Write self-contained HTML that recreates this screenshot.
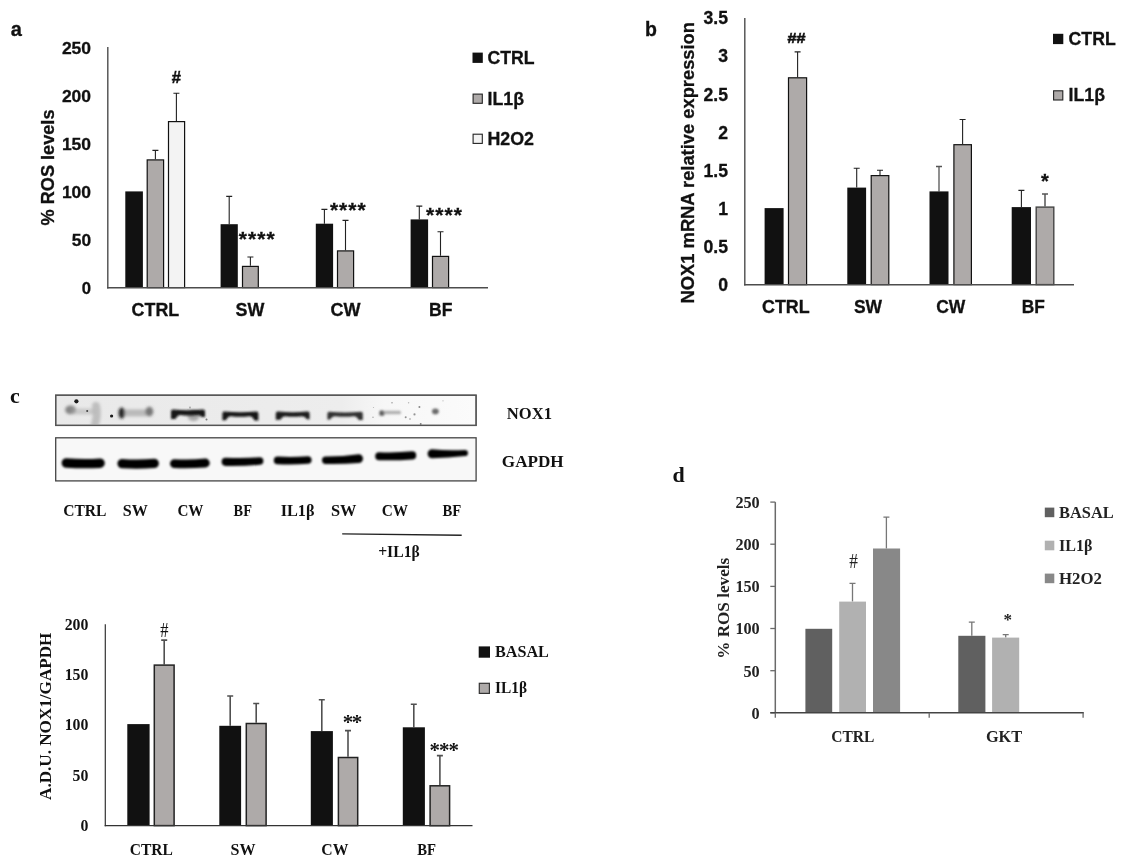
<!DOCTYPE html>
<html lang="en"><head><meta charset="utf-8"><title>Figure</title>
<style>
html,body{margin:0;padding:0;background:#fff}
body{width:1125px;height:866px;overflow:hidden;font-family:"Liberation Sans",sans-serif}
svg{display:block}
</style></head><body>
<svg width="1125" height="866" viewBox="0 0 1125 866">
<defs>
<filter id="b1" filterUnits="userSpaceOnUse" x="40" y="430" width="460" height="60"><feGaussianBlur stdDeviation="1.1"/></filter>
<filter id="b2" filterUnits="userSpaceOnUse" x="40" y="388" width="460" height="46"><feGaussianBlur stdDeviation="1.05"/></filter>
<clipPath id="nc"><rect x="56.3" y="395.8" width="419.2" height="29"/></clipPath>
<filter id="b4" filterUnits="userSpaceOnUse" x="40" y="388" width="460" height="46"><feGaussianBlur stdDeviation="1.8"/></filter>
<filter id="b3" filterUnits="userSpaceOnUse" x="40" y="388" width="460" height="46"><feGaussianBlur stdDeviation="0.5"/></filter>
<linearGradient id="ng" x1="0" x2="1" y1="0" y2="0"><stop offset="0" stop-color="#e9e9e9"/><stop offset=".68" stop-color="#ededed"/><stop offset=".78" stop-color="#f7f7f7"/><stop offset="1" stop-color="#fbfbfb"/></linearGradient>
</defs>
<rect width="1125" height="866" fill="#ffffff"/>
<text x="10.8" y="36.2" font-size="20" font-family="Liberation Sans, Arial, sans-serif" font-weight="bold" text-anchor="start" fill="#111"  stroke="#111" stroke-width=".3">a</text>
<text x="61.9" y="54.2" font-size="17.4" font-family="Liberation Sans, Arial, sans-serif" font-weight="bold" text-anchor="start" fill="#111" textLength="29.2" lengthAdjust="spacingAndGlyphs"  stroke="#111" stroke-width=".3">250</text>
<text x="61.9" y="102.1" font-size="17.4" font-family="Liberation Sans, Arial, sans-serif" font-weight="bold" text-anchor="start" fill="#111" textLength="29.2" lengthAdjust="spacingAndGlyphs"  stroke="#111" stroke-width=".3">200</text>
<text x="61.9" y="150.0" font-size="17.4" font-family="Liberation Sans, Arial, sans-serif" font-weight="bold" text-anchor="start" fill="#111" textLength="29.2" lengthAdjust="spacingAndGlyphs"  stroke="#111" stroke-width=".3">150</text>
<text x="61.9" y="198.0" font-size="17.4" font-family="Liberation Sans, Arial, sans-serif" font-weight="bold" text-anchor="start" fill="#111" textLength="29.2" lengthAdjust="spacingAndGlyphs"  stroke="#111" stroke-width=".3">100</text>
<text x="71.8" y="245.9" font-size="17.4" font-family="Liberation Sans, Arial, sans-serif" font-weight="bold" text-anchor="start" fill="#111" textLength="19.3" lengthAdjust="spacingAndGlyphs"  stroke="#111" stroke-width=".3">50</text>
<text x="81.8" y="293.8" font-size="17.4" font-family="Liberation Sans, Arial, sans-serif" font-weight="bold" text-anchor="start" fill="#111" textLength="9.3" lengthAdjust="spacingAndGlyphs"  stroke="#111" stroke-width=".3">0</text>
<text transform="translate(53.6,167.5) rotate(-90)" font-size="18" font-family="Liberation Sans, Arial, sans-serif" font-weight="bold" text-anchor="middle" fill="#111" textLength="116.0" lengthAdjust="spacingAndGlyphs" stroke="#111" stroke-width=".3">% ROS levels</text>
<rect x="125.3" y="191.4" width="17.6" height="96.2" fill="#111111"/>
<path d="M155.4 159.3V150.4M152.4 150.4H158.4" stroke="#222" stroke-width="1.1" fill="none"/>
<rect x="147.2" y="159.9" width="16.4" height="127.7" fill="#aeaaa9" stroke="#111" stroke-width="1.2"/>
<path d="M176.4 121.0V93.2M173.4 93.2H179.4" stroke="#222" stroke-width="1.1" fill="none"/>
<rect x="168.5" y="121.6" width="16.1" height="166.0" fill="#f3f3f3" stroke="#111" stroke-width="1.2"/>
<text x="176.4" y="82.9" font-size="16.5" font-family="Liberation Sans, Arial, sans-serif" font-weight="bold" text-anchor="middle" fill="#111" stroke="#111" stroke-width=".5">#</text>
<path d="M229.2 224.2V196.4M226.2 196.4H232.2" stroke="#222" stroke-width="1.1" fill="none"/>
<rect x="220.6" y="224.2" width="17.2" height="63.4" fill="#111111"/>
<path d="M250.4 265.8V257.0M247.4 257.0H253.4" stroke="#222" stroke-width="1.1" fill="none"/>
<rect x="242.5" y="266.4" width="15.8" height="21.2" fill="#aeaaa9" stroke="#111" stroke-width="1.2"/>
<text x="238.8" y="245.7" font-size="21" font-family="Liberation Sans, Arial, sans-serif" font-weight="bold" text-anchor="start" fill="#111" letter-spacing="1.05" stroke="#111" stroke-width=".3">****</text>
<path d="M324.4 223.7V209.4M321.4 209.4H327.4" stroke="#222" stroke-width="1.1" fill="none"/>
<rect x="315.8" y="223.7" width="17.3" height="63.9" fill="#111111"/>
<path d="M345.5 250.3V220.4M342.5 220.4H348.5" stroke="#222" stroke-width="1.1" fill="none"/>
<rect x="337.5" y="250.9" width="16.1" height="36.7" fill="#aeaaa9" stroke="#111" stroke-width="1.2"/>
<text x="329.9" y="217.1" font-size="21" font-family="Liberation Sans, Arial, sans-serif" font-weight="bold" text-anchor="start" fill="#111" letter-spacing="1.05" stroke="#111" stroke-width=".3">****</text>
<path d="M419.3 219.4V206.1M416.3 206.1H422.3" stroke="#222" stroke-width="1.1" fill="none"/>
<rect x="410.6" y="219.4" width="17.5" height="68.2" fill="#111111"/>
<path d="M440.5 255.8V231.7M437.5 231.7H443.5" stroke="#222" stroke-width="1.1" fill="none"/>
<rect x="432.5" y="256.4" width="16.1" height="31.2" fill="#aeaaa9" stroke="#111" stroke-width="1.2"/>
<text x="426.1" y="222.1" font-size="21" font-family="Liberation Sans, Arial, sans-serif" font-weight="bold" text-anchor="start" fill="#111" letter-spacing="1.05" stroke="#111" stroke-width=".3">****</text>
<line x1="107.8" y1="47.0" x2="107.8" y2="288.5" stroke="#4d4d4d" stroke-width="1.4"/>
<line x1="107.1" y1="287.8" x2="488.0" y2="287.8" stroke="#4d4d4d" stroke-width="1.4"/>
<text x="131.6" y="316.0" font-size="17.6" font-family="Liberation Sans, Arial, sans-serif" font-weight="bold" text-anchor="start" fill="#111" textLength="47.6" lengthAdjust="spacingAndGlyphs"  stroke="#111" stroke-width=".3">CTRL</text>
<text x="235.6" y="316.0" font-size="17.6" font-family="Liberation Sans, Arial, sans-serif" font-weight="bold" text-anchor="start" fill="#111" textLength="28.8" lengthAdjust="spacingAndGlyphs"  stroke="#111" stroke-width=".3">SW</text>
<text x="330.4" y="316.0" font-size="17.6" font-family="Liberation Sans, Arial, sans-serif" font-weight="bold" text-anchor="start" fill="#111" textLength="30.0" lengthAdjust="spacingAndGlyphs"  stroke="#111" stroke-width=".3">CW</text>
<text x="429.1" y="316.0" font-size="17.6" font-family="Liberation Sans, Arial, sans-serif" font-weight="bold" text-anchor="start" fill="#111" textLength="23.4" lengthAdjust="spacingAndGlyphs"  stroke="#111" stroke-width=".3">BF</text>
<rect x="472.5" y="52.6" width="10.3" height="10.3" fill="#111111"/>
<text x="487.5" y="63.8" font-size="17.6" font-family="Liberation Sans, Arial, sans-serif" font-weight="bold" text-anchor="start" fill="#111" textLength="47.1" lengthAdjust="spacingAndGlyphs"  stroke="#111" stroke-width=".3">CTRL</text>
<rect x="473.1" y="94.1" width="9.2" height="9.2" fill="#aeaaa9" stroke="#222" stroke-width="1.1"/>
<text x="487.5" y="104.7" font-size="17.6" font-family="Liberation Sans, Arial, sans-serif" font-weight="bold" text-anchor="start" fill="#111" textLength="36.5" lengthAdjust="spacingAndGlyphs"  stroke="#111" stroke-width=".3">IL1β</text>
<rect x="473.1" y="134.2" width="9.2" height="9.2" fill="#f3f3f3" stroke="#222" stroke-width="1.1"/>
<text x="487.5" y="144.8" font-size="17.6" font-family="Liberation Sans, Arial, sans-serif" font-weight="bold" text-anchor="start" fill="#111" textLength="46.5" lengthAdjust="spacingAndGlyphs"  stroke="#111" stroke-width=".3">H2O2</text>
<text x="645.0" y="35.8" font-size="19.5" font-family="Liberation Sans, Arial, sans-serif" font-weight="bold" text-anchor="start" fill="#111"  stroke="#111" stroke-width=".3">b</text>
<text x="728.0" y="24.3" font-size="17.6" font-family="Liberation Sans, Arial, sans-serif" font-weight="bold" text-anchor="end" fill="#111"  stroke="#111" stroke-width=".3">3.5</text>
<text x="728.0" y="62.4" font-size="17.6" font-family="Liberation Sans, Arial, sans-serif" font-weight="bold" text-anchor="end" fill="#111"  stroke="#111" stroke-width=".3">3</text>
<text x="728.0" y="100.5" font-size="17.6" font-family="Liberation Sans, Arial, sans-serif" font-weight="bold" text-anchor="end" fill="#111"  stroke="#111" stroke-width=".3">2.5</text>
<text x="728.0" y="138.6" font-size="17.6" font-family="Liberation Sans, Arial, sans-serif" font-weight="bold" text-anchor="end" fill="#111"  stroke="#111" stroke-width=".3">2</text>
<text x="728.0" y="176.7" font-size="17.6" font-family="Liberation Sans, Arial, sans-serif" font-weight="bold" text-anchor="end" fill="#111"  stroke="#111" stroke-width=".3">1.5</text>
<text x="728.0" y="214.7" font-size="17.6" font-family="Liberation Sans, Arial, sans-serif" font-weight="bold" text-anchor="end" fill="#111"  stroke="#111" stroke-width=".3">1</text>
<text x="728.0" y="252.8" font-size="17.6" font-family="Liberation Sans, Arial, sans-serif" font-weight="bold" text-anchor="end" fill="#111"  stroke="#111" stroke-width=".3">0.5</text>
<text x="728.0" y="290.9" font-size="17.6" font-family="Liberation Sans, Arial, sans-serif" font-weight="bold" text-anchor="end" fill="#111"  stroke="#111" stroke-width=".3">0</text>
<text transform="translate(694.0,162.7) rotate(-90)" font-size="18.3" font-family="Liberation Sans, Arial, sans-serif" font-weight="bold" text-anchor="middle" fill="#111" textLength="281.4" lengthAdjust="spacingAndGlyphs" stroke="#111" stroke-width=".3">NOX1 mRNA relative expression</text>
<rect x="764.6" y="208.1" width="19.0" height="76.5" fill="#111111"/>
<path d="M797.6 77.2V51.9M794.6 51.9H800.6" stroke="#222" stroke-width="1.1" fill="none"/>
<rect x="788.5" y="77.8" width="18.1" height="206.8" fill="#aeaaa9" stroke="#111" stroke-width="1.2"/>
<text x="796.4" y="43.2" font-size="14" font-family="Liberation Sans, Arial, sans-serif" font-weight="bold" text-anchor="middle" fill="#111" textLength="18.0" lengthAdjust="spacingAndGlyphs" stroke="#111" stroke-width=".5">##</text>
<path d="M856.7 187.6V168.3M853.7 168.3H859.7" stroke="#222" stroke-width="1.1" fill="none"/>
<rect x="847.3" y="187.6" width="18.8" height="97.0" fill="#111111"/>
<path d="M880.0 175.0V170.3M877.0 170.3H883.0" stroke="#222" stroke-width="1.1" fill="none"/>
<rect x="871.2" y="175.6" width="17.6" height="109.0" fill="#aeaaa9" stroke="#111" stroke-width="1.2"/>
<path d="M939.0 191.4V166.5M936.0 166.5H942.0" stroke="#555" stroke-width="1.3" fill="none"/>
<rect x="929.5" y="191.4" width="19.0" height="93.2" fill="#111111"/>
<path d="M962.6 144.1V119.5M959.6 119.5H965.6" stroke="#222" stroke-width="1.1" fill="none"/>
<rect x="953.9" y="144.7" width="17.5" height="139.9" fill="#aeaaa9" stroke="#111" stroke-width="1.2"/>
<path d="M1021.4 207.1V190.4M1018.4 190.4H1024.4" stroke="#222" stroke-width="1.1" fill="none"/>
<rect x="1011.7" y="207.1" width="19.3" height="77.5" fill="#111111"/>
<path d="M1045.0 206.4V193.9M1042.0 193.9H1048.0" stroke="#555" stroke-width="1.5" fill="none"/>
<rect x="1036.2" y="207.1" width="17.6" height="77.5" fill="#aeaaa9" stroke="#444" stroke-width="1.4"/>
<text x="1044.8" y="187.8" font-size="20" font-family="Liberation Sans, Arial, sans-serif" font-weight="bold" text-anchor="middle" fill="#111"  stroke="#111" stroke-width=".3">*</text>
<line x1="744.8" y1="18.0" x2="744.8" y2="285.5" stroke="#4d4d4d" stroke-width="1.4"/>
<line x1="744.1" y1="284.8" x2="1074.0" y2="284.8" stroke="#4d4d4d" stroke-width="1.4"/>
<text x="762.0" y="313.0" font-size="17.6" font-family="Liberation Sans, Arial, sans-serif" font-weight="bold" text-anchor="start" fill="#111" textLength="47.7" lengthAdjust="spacingAndGlyphs"  stroke="#111" stroke-width=".3">CTRL</text>
<text x="853.9" y="313.0" font-size="17.6" font-family="Liberation Sans, Arial, sans-serif" font-weight="bold" text-anchor="start" fill="#111" textLength="28.1" lengthAdjust="spacingAndGlyphs"  stroke="#111" stroke-width=".3">SW</text>
<text x="936.2" y="313.0" font-size="17.6" font-family="Liberation Sans, Arial, sans-serif" font-weight="bold" text-anchor="start" fill="#111" textLength="29.1" lengthAdjust="spacingAndGlyphs"  stroke="#111" stroke-width=".3">CW</text>
<text x="1021.7" y="313.0" font-size="17.6" font-family="Liberation Sans, Arial, sans-serif" font-weight="bold" text-anchor="start" fill="#111" textLength="23.1" lengthAdjust="spacingAndGlyphs"  stroke="#111" stroke-width=".3">BF</text>
<rect x="1053" y="33.8" width="10.3" height="10.3" fill="#111111"/>
<text x="1068.6" y="44.6" font-size="17.6" font-family="Liberation Sans, Arial, sans-serif" font-weight="bold" text-anchor="start" fill="#111" textLength="47.1" lengthAdjust="spacingAndGlyphs"  stroke="#111" stroke-width=".3">CTRL</text>
<rect x="1053.6" y="90.8" width="9.2" height="9.2" fill="#aeaaa9" stroke="#222" stroke-width="1.1"/>
<text x="1068.6" y="101.0" font-size="17.6" font-family="Liberation Sans, Arial, sans-serif" font-weight="bold" text-anchor="start" fill="#111" textLength="36.5" lengthAdjust="spacingAndGlyphs"  stroke="#111" stroke-width=".3">IL1β</text>
<text x="10.0" y="402.8" font-size="22" font-family="Liberation Serif, Times New Roman, serif" font-weight="bold" text-anchor="start" fill="#111" >c</text>
<g id="blot">
<rect x="55.7" y="395.2" width="420.4" height="30.2" fill="url(#ng)" stroke="#555" stroke-width="1.3"/>
<rect x="55.7" y="437.8" width="420.4" height="43.1" fill="#f8f8f8" stroke="#444" stroke-width="1.3"/>
<g filter="url(#b1)" fill="#060606">
<path d="M66.4 458.2Q83.2 459.5 100.0 458.4A4.8 4.8 0 0 1 100.0 468.0Q83.2 468.8 66.4 467.8A4.8 4.8 0 0 1 66.4 458.2Z"/>
<path d="M122.1 458.9Q138.2 460.0 154.2 458.7A4.7 4.7 0 0 1 154.2 468.1Q138.2 469.1 122.1 468.3A4.7 4.7 0 0 1 122.1 458.9Z"/>
<path d="M174.4 459.2Q189.9 460.1 205.4 458.6A4.4 4.4 0 0 1 205.4 467.4Q189.9 468.6 174.4 468.0A4.4 4.4 0 0 1 174.4 459.2Z"/>
<path d="M225.7 457.7Q242.5 458.7 259.7 457.3A3.7 3.7 0 0 1 259.7 464.7Q242.5 466.2 225.7 465.9A4.1 4.1 0 0 1 225.7 457.7Z"/>
<path d="M277.6 456.6Q292.7 457.6 307.8 456.2A3.8 3.8 0 0 1 307.8 463.8Q292.7 464.9 277.6 464.2A3.8 3.8 0 0 1 277.6 456.6Z"/>
<path d="M325.7 456.5Q342.5 456.6 358.7 454.3A4.3 4.3 0 0 1 358.7 462.9Q342.5 464.3 325.7 463.9A3.7 3.7 0 0 1 325.7 456.5Z"/>
<path d="M379.2 452.2Q395.7 452.9 412.1 451.3A4.1 4.1 0 0 1 412.1 459.5Q395.7 460.7 379.2 460.2A4.0 4.0 0 0 1 379.2 452.2Z"/>
<path d="M432.1 449.3Q447.8 450.8 464.9 449.9A3.1 3.1 0 0 1 464.9 456.1Q447.8 458.1 432.1 458.3A4.5 4.5 0 0 1 432.1 449.3Z"/>
</g>
<g clip-path="url(#nc)">
<g filter="url(#b4)" fill="none" stroke-linecap="round">
<ellipse cx="70.5" cy="409.8" rx="5.4" ry="4.4" fill="#6a6a6a" fill-opacity=".8"/>
<path d="M74 411.5H92" stroke="#aaa" stroke-opacity=".5" stroke-width="6"/>
<path d="M96 406Q98 415 95 424" stroke="#b0b0b0" stroke-opacity=".75" stroke-width="8"/>
<ellipse cx="121.8" cy="413" rx="3.3" ry="5.6" fill="#141414" fill-opacity=".95"/>
<rect x="124" y="409.4" width="23" height="7" fill="#9a9a9a" fill-opacity=".6"/>
<ellipse cx="149.4" cy="411.6" rx="3.9" ry="4.8" fill="#5a5a5a" fill-opacity=".8"/>
<ellipse cx="193.5" cy="415.5" rx="6" ry="5.5" fill="#777" fill-opacity=".6"/>
</g>
<g filter="url(#b2)" stroke="none">
<path d="M173.0 409.6Q188.0 411.0 203.0 409.6Q205.0 409.6 205.0 411.6V417.0H202.0Q200.0 415.0 197.0 415.0Q188.0 416.2 180.5 415.0Q177.5 415.0 175.5 419.0H171.0V411.6Q171.0 409.6 173.0 409.6Z" fill="#161616"/>
<path d="M224.4 411.6Q240.4 413.0 256.4 411.6Q258.4 411.6 258.4 413.6V420.4H254.4Q252.4 416.2 249.4 416.2Q240.4 417.4 230.9 416.2Q227.9 416.2 225.9 420.2H222.4V413.6Q222.4 411.6 224.4 411.6Z" fill="#161616"/>
<path d="M277.8 411.6Q292.7 413.0 307.6 411.6Q309.6 411.6 309.6 413.6V419.2H307.0Q305.0 416.2 302.0 416.2Q292.7 417.4 285.3 416.2Q282.3 416.2 280.3 419.8H275.8V413.6Q275.8 411.6 277.8 411.6Z" fill="#1c1c1c"/>
<path d="M329.4 411.8Q345.1 413.2 360.8 411.8Q362.8 411.8 362.8 413.8V420.0H358.8Q356.8 416.2 353.8 416.2Q345.1 417.4 335.0 416.2Q332.0 416.2 330.0 419.4H327.4V413.8Q327.4 411.8 329.4 411.8Z" fill="#303030"/>
<rect x="379.4" y="410.4" width="5" height="5.4" rx="1.5" fill="#5a5a5a"/>
<rect x="383" y="410.8" width="18" height="3.4" rx="1.5" fill="#9a9a9a" fill-opacity=".75"/>
<ellipse cx="435.4" cy="411.4" rx="3.4" ry="2.8" fill="#6a6a6a"/>
</g>
</g>
<rect x="55.7" y="395.2" width="420.4" height="30.2" fill="none" stroke="#555" stroke-width="1.3"/>
<g fill="#1a1a1a" filter="url(#b3)">
<circle cx="76.4" cy="401.3" r="2.1" fill-opacity="1"/>
<circle cx="87.2" cy="410.9" r="1.0" fill-opacity="0.8"/>
<circle cx="111.6" cy="416.0" r="1.6" fill-opacity="1"/>
<circle cx="206.5" cy="419.5" r="1.0" fill-opacity="0.5"/>
<circle cx="405.7" cy="417.3" r="1.0" fill-opacity="0.45"/>
<circle cx="414.5" cy="414.4" r="1.1" fill-opacity="0.45"/>
<circle cx="419.4" cy="407.0" r="1.0" fill-opacity="0.5"/>
<circle cx="420.7" cy="423.8" r="0.9" fill-opacity="0.55"/>
<circle cx="392" cy="402.7" r="0.8" fill-opacity="0.4"/>
<circle cx="373" cy="417.3" r="0.7" fill-opacity="0.35"/>
<circle cx="408.6" cy="402.7" r="0.7" fill-opacity="0.3"/>
<circle cx="373.5" cy="407.5" r="0.6" fill-opacity="0.3"/>
<circle cx="443" cy="400.8" r="0.6" fill-opacity="0.3"/>
<circle cx="190" cy="407.5" r="0.9" fill-opacity="0.35"/>
<circle cx="410" cy="419" r="0.8" fill-opacity="0.4"/>
</g>
</g>
<text x="506.8" y="418.9" font-size="17" font-family="Liberation Serif, Times New Roman, serif" font-weight="bold" text-anchor="start" fill="#111" textLength="45.2" lengthAdjust="spacingAndGlyphs" >NOX1</text>
<text x="501.8" y="467.2" font-size="17" font-family="Liberation Serif, Times New Roman, serif" font-weight="bold" text-anchor="start" fill="#111" textLength="61.9" lengthAdjust="spacingAndGlyphs" >GAPDH</text>
<text x="63.2" y="516.1" font-size="16.5" font-family="Liberation Serif, Times New Roman, serif" font-weight="bold" text-anchor="start" fill="#111" textLength="43.3" lengthAdjust="spacingAndGlyphs" >CTRL</text>
<text x="122.8" y="516.1" font-size="16.5" font-family="Liberation Serif, Times New Roman, serif" font-weight="bold" text-anchor="start" fill="#111" textLength="25.1" lengthAdjust="spacingAndGlyphs" >SW</text>
<text x="177.4" y="516.1" font-size="16.5" font-family="Liberation Serif, Times New Roman, serif" font-weight="bold" text-anchor="start" fill="#111" textLength="26.1" lengthAdjust="spacingAndGlyphs" >CW</text>
<text x="233.6" y="516.1" font-size="16.5" font-family="Liberation Serif, Times New Roman, serif" font-weight="bold" text-anchor="start" fill="#111" textLength="18.3" lengthAdjust="spacingAndGlyphs" >BF</text>
<text x="280.7" y="516.1" font-size="16.5" font-family="Liberation Serif, Times New Roman, serif" font-weight="bold" text-anchor="start" fill="#111" textLength="33.9" lengthAdjust="spacingAndGlyphs" >IL1β</text>
<text x="330.9" y="516.1" font-size="16.5" font-family="Liberation Serif, Times New Roman, serif" font-weight="bold" text-anchor="start" fill="#111" textLength="25.5" lengthAdjust="spacingAndGlyphs" >SW</text>
<text x="381.7" y="516.1" font-size="16.5" font-family="Liberation Serif, Times New Roman, serif" font-weight="bold" text-anchor="start" fill="#111" textLength="26.4" lengthAdjust="spacingAndGlyphs" >CW</text>
<text x="442.4" y="516.1" font-size="16.5" font-family="Liberation Serif, Times New Roman, serif" font-weight="bold" text-anchor="start" fill="#111" textLength="18.8" lengthAdjust="spacingAndGlyphs" >BF</text>
<line x1="342.2" y1="533.9" x2="461.7" y2="535.3" stroke="#222" stroke-width="1.4"/>
<text x="378.2" y="556.7" font-size="16.5" font-family="Liberation Serif, Times New Roman, serif" font-weight="bold" text-anchor="start" fill="#111" textLength="41.6" lengthAdjust="spacingAndGlyphs" >+IL1β</text>
<text x="88.4" y="629.5" font-size="15.8" font-family="Liberation Serif, Times New Roman, serif" font-weight="bold" text-anchor="end" fill="#111" >200</text>
<text x="88.4" y="679.8" font-size="15.8" font-family="Liberation Serif, Times New Roman, serif" font-weight="bold" text-anchor="end" fill="#111" >150</text>
<text x="88.4" y="730.2" font-size="15.8" font-family="Liberation Serif, Times New Roman, serif" font-weight="bold" text-anchor="end" fill="#111" >100</text>
<text x="88.4" y="780.5" font-size="15.8" font-family="Liberation Serif, Times New Roman, serif" font-weight="bold" text-anchor="end" fill="#111" >50</text>
<text x="88.4" y="830.8" font-size="15.8" font-family="Liberation Serif, Times New Roman, serif" font-weight="bold" text-anchor="end" fill="#111" >0</text>
<text transform="translate(51.0,716.3) rotate(-90)" font-size="16.5" font-family="Liberation Serif, Times New Roman, serif" font-weight="bold" text-anchor="middle" fill="#111" textLength="167.4" lengthAdjust="spacingAndGlyphs">A.D.U. NOX1/GAPDH</text>
<rect x="127.3" y="724.1" width="22.3" height="101.5" fill="#111111"/>
<path d="M164.2 664.4V640.1M161.2 640.1H167.2" stroke="#505050" stroke-width="1.6" fill="none"/>
<rect x="154.3" y="665.1" width="19.8" height="160.5" fill="#aeaaa9" stroke="#222" stroke-width="1.5"/>
<text x="164.3" y="637.4" font-size="20" font-family="Liberation Serif, serif" text-anchor="middle" fill="#111" textLength="8.2" lengthAdjust="spacingAndGlyphs" >#</text>
<path d="M230.2 725.8V696.0M227.2 696.0H233.2" stroke="#505050" stroke-width="1.6" fill="none"/>
<rect x="219.3" y="725.8" width="21.8" height="99.8" fill="#111111"/>
<path d="M256.2 722.8V703.5M253.2 703.5H259.2" stroke="#505050" stroke-width="1.6" fill="none"/>
<rect x="246.3" y="723.5" width="19.8" height="102.1" fill="#aeaaa9" stroke="#222" stroke-width="1.5"/>
<path d="M321.8 731.1V699.8M318.8 699.8H324.8" stroke="#505050" stroke-width="1.6" fill="none"/>
<rect x="310.8" y="731.1" width="22.1" height="94.5" fill="#111111"/>
<path d="M348.0 756.7V730.6M345.0 730.6H351.0" stroke="#505050" stroke-width="1.6" fill="none"/>
<rect x="338.4" y="757.5" width="19.3" height="68.1" fill="#aeaaa9" stroke="#222" stroke-width="1.5"/>
<text x="342.7" y="729.2" font-size="21" font-family="Liberation Serif, Times New Roman, serif" font-weight="bold" text-anchor="start" fill="#111" letter-spacing="-1.4">**</text>
<path d="M413.8 727.3V704.3M410.8 704.3H416.8" stroke="#505050" stroke-width="1.6" fill="none"/>
<rect x="402.8" y="727.3" width="22.1" height="98.3" fill="#111111"/>
<path d="M439.9 785.0V755.6M436.9 755.6H442.9" stroke="#505050" stroke-width="1.6" fill="none"/>
<rect x="430.1" y="785.8" width="19.5" height="39.9" fill="#aeaaa9" stroke="#222" stroke-width="1.5"/>
<text x="429.6" y="756.7" font-size="21" font-family="Liberation Serif, Times New Roman, serif" font-weight="bold" text-anchor="start" fill="#111" letter-spacing="-1.1">***</text>
<line x1="105.3" y1="624.3" x2="105.3" y2="826.2" stroke="#333" stroke-width="1.2"/>
<line x1="104.7" y1="825.6" x2="472.5" y2="825.6" stroke="#333" stroke-width="1.2"/>
<text x="129.8" y="855.1" font-size="16.5" font-family="Liberation Serif, Times New Roman, serif" font-weight="bold" text-anchor="start" fill="#111" textLength="43.1" lengthAdjust="spacingAndGlyphs" >CTRL</text>
<text x="230.6" y="855.1" font-size="16.5" font-family="Liberation Serif, Times New Roman, serif" font-weight="bold" text-anchor="start" fill="#111" textLength="25.0" lengthAdjust="spacingAndGlyphs" >SW</text>
<text x="321.3" y="855.1" font-size="16.5" font-family="Liberation Serif, Times New Roman, serif" font-weight="bold" text-anchor="start" fill="#111" textLength="27.1" lengthAdjust="spacingAndGlyphs" >CW</text>
<text x="417.3" y="855.1" font-size="16.5" font-family="Liberation Serif, Times New Roman, serif" font-weight="bold" text-anchor="start" fill="#111" textLength="18.8" lengthAdjust="spacingAndGlyphs" >BF</text>
<rect x="478.7" y="646.4" width="11.3" height="11.3" fill="#111"/>
<text x="495.0" y="657.1" font-size="16.5" font-family="Liberation Serif, Times New Roman, serif" font-weight="bold" text-anchor="start" fill="#111" textLength="53.9" lengthAdjust="spacingAndGlyphs" >BASAL</text>
<rect x="479.3" y="683.3" width="10.1" height="10.1" fill="#aeaaa9" stroke="#333" stroke-width="1.2"/>
<text x="495.0" y="693.2" font-size="16.5" font-family="Liberation Serif, Times New Roman, serif" font-weight="bold" text-anchor="start" fill="#111" textLength="32.1" lengthAdjust="spacingAndGlyphs" >IL1β</text>
<text x="672.5" y="482.1" font-size="22" font-family="Liberation Serif, Times New Roman, serif" font-weight="bold" text-anchor="start" fill="#111" >d</text>
<text x="759.7" y="507.9" font-size="16.2" font-family="Liberation Serif, Times New Roman, serif" font-weight="bold" text-anchor="end" fill="#222" >250</text>
<line x1="770.3" y1="502.1" x2="775.3" y2="502.1" stroke="#6a6a6a" stroke-width="1.3"/>
<text x="759.7" y="550.0" font-size="16.2" font-family="Liberation Serif, Times New Roman, serif" font-weight="bold" text-anchor="end" fill="#222" >200</text>
<line x1="770.3" y1="544.2" x2="775.3" y2="544.2" stroke="#6a6a6a" stroke-width="1.3"/>
<text x="759.7" y="592.2" font-size="16.2" font-family="Liberation Serif, Times New Roman, serif" font-weight="bold" text-anchor="end" fill="#222" >150</text>
<line x1="770.3" y1="586.4" x2="775.3" y2="586.4" stroke="#6a6a6a" stroke-width="1.3"/>
<text x="759.7" y="634.3" font-size="16.2" font-family="Liberation Serif, Times New Roman, serif" font-weight="bold" text-anchor="end" fill="#222" >100</text>
<line x1="770.3" y1="628.5" x2="775.3" y2="628.5" stroke="#6a6a6a" stroke-width="1.3"/>
<text x="759.7" y="676.5" font-size="16.2" font-family="Liberation Serif, Times New Roman, serif" font-weight="bold" text-anchor="end" fill="#222" >50</text>
<line x1="770.3" y1="670.7" x2="775.3" y2="670.7" stroke="#6a6a6a" stroke-width="1.3"/>
<text x="759.7" y="718.6" font-size="16.2" font-family="Liberation Serif, Times New Roman, serif" font-weight="bold" text-anchor="end" fill="#222" >0</text>
<line x1="770.3" y1="712.8" x2="775.3" y2="712.8" stroke="#6a6a6a" stroke-width="1.3"/>
<text transform="translate(729.4,608.3) rotate(-90)" font-size="16.5" font-family="Liberation Serif, Times New Roman, serif" font-weight="bold" text-anchor="middle" fill="#222" textLength="101.0" lengthAdjust="spacingAndGlyphs">% ROS levels</text>
<rect x="805.4" y="628.8" width="26.8" height="84.0" fill="#606060"/>
<path d="M852.5 601.6V583.3M849.5 583.3H855.5" stroke="#777" stroke-width="1.3" fill="none"/>
<rect x="839.2" y="601.6" width="26.8" height="111.2" fill="#b1b1b1"/>
<text x="853.6" y="568.2" font-size="20" font-family="Liberation Serif, serif" text-anchor="middle" fill="#222" textLength="8.6" lengthAdjust="spacingAndGlyphs" >#</text>
<path d="M886.4 548.5V517.2M883.4 517.2H889.4" stroke="#777" stroke-width="1.3" fill="none"/>
<rect x="873.0" y="548.5" width="27.1" height="164.3" fill="#888888"/>
<path d="M971.8 635.8V622.1M968.8 622.1H974.8" stroke="#777" stroke-width="1.3" fill="none"/>
<rect x="958.3" y="635.8" width="27.1" height="77.0" fill="#606060"/>
<path d="M1005.7 637.6V634.6M1002.7 634.6H1008.7" stroke="#777" stroke-width="1.3" fill="none"/>
<rect x="992.1" y="637.6" width="27.1" height="75.2" fill="#b1b1b1"/>
<text x="1007.7" y="624.6" font-size="17" font-family="Liberation Serif, Times New Roman, serif" font-weight="bold" text-anchor="middle" fill="#222" >*</text>
<line x1="775.3" y1="502.1" x2="775.3" y2="712.8" stroke="#6a6a6a" stroke-width="1.5"/>
<line x1="770.3" y1="712.8" x2="1083.8" y2="712.8" stroke="#444" stroke-width="1.5"/>
<line x1="775.3" y1="712.8" x2="775.3" y2="717.8" stroke="#6a6a6a" stroke-width="1.3"/>
<line x1="929.2" y1="712.8" x2="929.2" y2="717.8" stroke="#6a6a6a" stroke-width="1.3"/>
<line x1="1083.1" y1="712.8" x2="1083.1" y2="717.8" stroke="#6a6a6a" stroke-width="1.3"/>
<text x="831.2" y="741.6" font-size="16.5" font-family="Liberation Serif, Times New Roman, serif" font-weight="bold" text-anchor="start" fill="#222" textLength="43.1" lengthAdjust="spacingAndGlyphs" >CTRL</text>
<text x="985.9" y="741.6" font-size="16.5" font-family="Liberation Serif, Times New Roman, serif" font-weight="bold" text-anchor="start" fill="#222" textLength="36.3" lengthAdjust="spacingAndGlyphs" >GKT</text>
<rect x="1044.8" y="507.6" width="9.5" height="9.6" fill="#606060"/>
<text x="1059.0" y="517.6" font-size="16.5" font-family="Liberation Serif, Times New Roman, serif" font-weight="bold" text-anchor="start" fill="#222" textLength="54.7" lengthAdjust="spacingAndGlyphs" >BASAL</text>
<rect x="1044.8" y="540.7" width="9.5" height="9.6" fill="#b1b1b1"/>
<text x="1059.0" y="550.7" font-size="16.5" font-family="Liberation Serif, Times New Roman, serif" font-weight="bold" text-anchor="start" fill="#222" textLength="33.4" lengthAdjust="spacingAndGlyphs" >IL1β</text>
<rect x="1044.8" y="573.6" width="9.5" height="9.6" fill="#888888"/>
<text x="1059.0" y="583.6" font-size="16.5" font-family="Liberation Serif, Times New Roman, serif" font-weight="bold" text-anchor="start" fill="#222" textLength="42.9" lengthAdjust="spacingAndGlyphs" >H2O2</text>
</svg>
</body></html>
